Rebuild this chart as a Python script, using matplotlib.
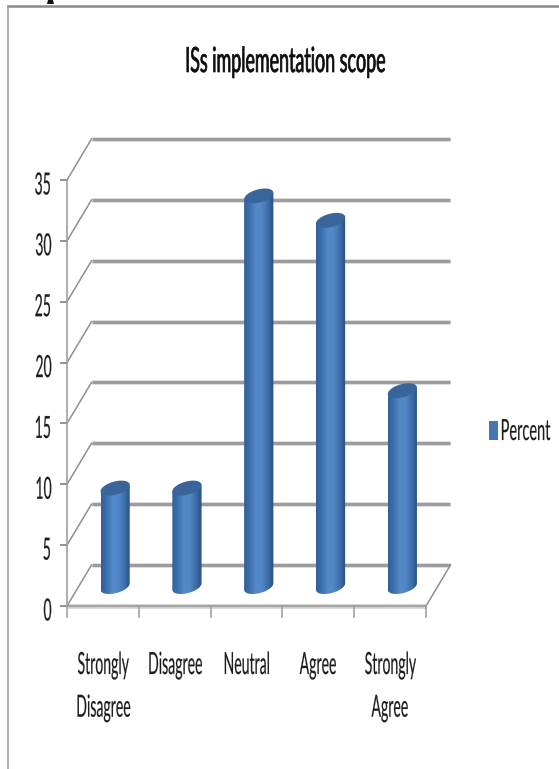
import matplotlib
matplotlib.use("Agg")
import matplotlib.pyplot as plt
import numpy as np
from matplotlib.patches import PathPatch
from matplotlib.patheffects import AbstractPathEffect
from matplotlib.path import Path
from matplotlib.transforms import Affine2D
from matplotlib.colors import LinearSegmentedColormap

plt.rcParams["font.family"] = ["Lato", "DejaVu Sans"]

TITLE = "ISs implementation scope"
CATEGORIES = ["Strongly\nDisagree", "Disagree", "Neutral", "Agree", "Strongly\nAgree"]
PERCENT = [8, 8, 32, 30, 16]
Y_TICKS = [0, 5, 10, 15, 20, 25, 30, 35]
SERIES = "Percent"

W, H = 559, 769


class Condensed(AbstractPathEffect):
    """Narrow each line of a text horizontally, keeping one edge or its centre in place."""

    def __init__(self, factor, align="center", stroke=0.12):
        super().__init__()
        self.factor = factor
        self.align = align
        self.stroke = stroke

    def draw_path(self, renderer, gc, tpath, affine, rgbFace=None):
        box = tpath.get_extents()
        pivot = {"left": box.x0, "right": box.x1, "center": (box.x0 + box.x1) / 2}[self.align]
        squeeze = Affine2D().translate(-pivot, 0).scale(self.factor, 1).translate(pivot, 0)
        heavy = renderer.new_gc()
        heavy.copy_properties(gc)
        heavy.set_linewidth(self.stroke)
        heavy.set_foreground(rgbFace)
        renderer.draw_path(heavy, tpath, squeeze + affine, rgbFace)
        heavy.restore()


fig = plt.figure(figsize=(W / 100, H / 100), dpi=100, facecolor="white")

# Front plane of the 3-D box occupies this axes; the back wall is offset by a fixed depth.
ax = fig.add_axes([67 / W, 1 - 606 / H, 359 / W, 426 / H])
ax.set_xlim(0, 5)
ax.set_ylim(0, 35)
ax.axis("off")
PX = 5 / 359          # data units per pixel horizontally
PY = 35 / 426         # data units per pixel vertically
DEPTH_X = 24.5 * PX
DEPTH_Y = 41 * PY

GRID = "#9c9c9c"
AXIS = "#a6a6a6"

# Gridlines along the back wall with their diagonal returns on the side wall
for v in Y_TICKS:
    ax.plot([DEPTH_X, 5 + DEPTH_X], [v + DEPTH_Y] * 2, color="#dcdcdc", lw=3.4,
            clip_on=False, solid_capstyle="butt", zorder=1)
    ax.plot([DEPTH_X, 5 + DEPTH_X], [v + DEPTH_Y] * 2, color=GRID, lw=2.2,
            clip_on=False, solid_capstyle="butt", zorder=1.1)
    ax.plot([0, DEPTH_X], [v, v + DEPTH_Y], color="#8f8f8f", lw=1.1, clip_on=False, zorder=1.2)
    ax.plot([-6 * PX, 0], [v, v], color="#8f8f8f", lw=1.4, clip_on=False, zorder=1.2)

# Floor outline, vertical axis and category ticks
ax.plot([0, 5], [0, 0], color="#d6d6d6", lw=3.4, clip_on=False, solid_capstyle="butt", zorder=1)
ax.plot([0, 5], [0, 0], color=AXIS, lw=1.6, clip_on=False, solid_capstyle="butt", zorder=1.1)
ax.plot([5, 5 + DEPTH_X], [0, DEPTH_Y], color="#8f8f8f", lw=1.1, clip_on=False, zorder=1.2)
ax.plot([0, 0], [0, 35], color="#a0a0a0", lw=1.2, clip_on=False, zorder=1.2)
for i in range(6):
    ax.plot([i, i], [0, -11 * PY], color="#9a9a9a", lw=1.1, clip_on=False, zorder=1.2)

# Cylinders: horizontal gradient clipped to the body outline, darker tilted ellipse on top
body_cmap = LinearSegmentedColormap.from_list(
    "cyl", ["#2f5f97", "#3f74b2", "#558ac8", "#4f86c6", "#3d6fa9", "#27507f"])
gradient = np.linspace(0, 1, 64).reshape(1, -1)
half_w = 14.6 * PX
half_h = 6.8 * PY
tilt = 3.2 * PY / (14.6 * PX)
t_lo = np.linspace(np.pi, 2 * np.pi, 40)
t_hi = np.linspace(0, 2 * np.pi, 80)

for i, value in enumerate(PERCENT):
    cx = i + 0.5 + DEPTH_X / 2
    base = DEPTH_Y / 2 - 1.0 * PY
    top = value + DEPTH_Y / 2
    xs = cx + half_w * np.cos(t_lo)
    lower = base + half_h * np.sin(t_lo) + tilt * (xs - cx)
    verts = list(zip(xs, lower)) + [(cx + half_w, top + tilt * half_w), (cx - half_w, top - tilt * half_w)]
    outline = Path(verts + [verts[0]], closed=True)
    im = ax.imshow(gradient, extent=[cx - half_w, cx + half_w, base - 2, top + 2],
                   cmap=body_cmap, aspect="auto", zorder=3, interpolation="bilinear")
    im.set_clip_path(PathPatch(outline, transform=ax.transData))
    im.set_clip_on(True)
    xs_top = cx + half_w * np.cos(t_hi)
    ys_top = top + half_h * np.sin(t_hi) + tilt * (xs_top - cx)
    ax.fill(xs_top, ys_top, color="#39659a", lw=0, zorder=4, clip_on=False)

ax.set_xlim(0, 5)
ax.set_ylim(0, 35)

# Value and category labels, all set in a tall condensed style
for v in Y_TICKS:
    ax.text(-15 * PX, v - 5.5 * PY, str(v), ha="right", va="center", fontsize=22, color="#1c1c1c",
            clip_on=False, path_effects=[Condensed(0.46, "right")])
for i, label in enumerate(CATEGORIES):
    ax.text(i + 0.5, -45 * PY, label, ha="center", va="top", fontsize=22, color="#1c1c1c",
            linespacing=1.64, clip_on=False, path_effects=[Condensed(0.46)])

fig.text(285.5 / W, 1 - 62 / H, TITLE, ha="center", va="center", fontsize=25, color="#0c0c0c",
         path_effects=[Condensed(0.515, stroke=0.5)])

# Legend swatch and label
fig.patches.append(plt.Rectangle((489 / W, 1 - 440 / H), 8.5 / W, 19 / H, transform=fig.transFigure,
                                 facecolor="#4276b4", edgecolor="none"))
fig.text(525 / W, 1 - 432 / H, SERIES, ha="center", va="center", fontsize=21, color="#1c1c1c",
         path_effects=[Condensed(0.50)])

# Frame of the chart area, cut off at the right and bottom
frame = fig.add_axes([0, 0, 1, 1], facecolor="none")
frame.set_xlim(0, W)
frame.set_ylim(H, 0)
frame.axis("off")
frame.plot([8, 559], [6, 6], color="#8a8a8a", lw=1.8)
frame.plot([8, 8], [6, 769], color="#a0a0a0", lw=1.2)
frame.fill([48, 53, 54, 47], [0, 0, 4, 4], color="#111111", lw=0)

fig.savefig("out.png", dpi=100)
